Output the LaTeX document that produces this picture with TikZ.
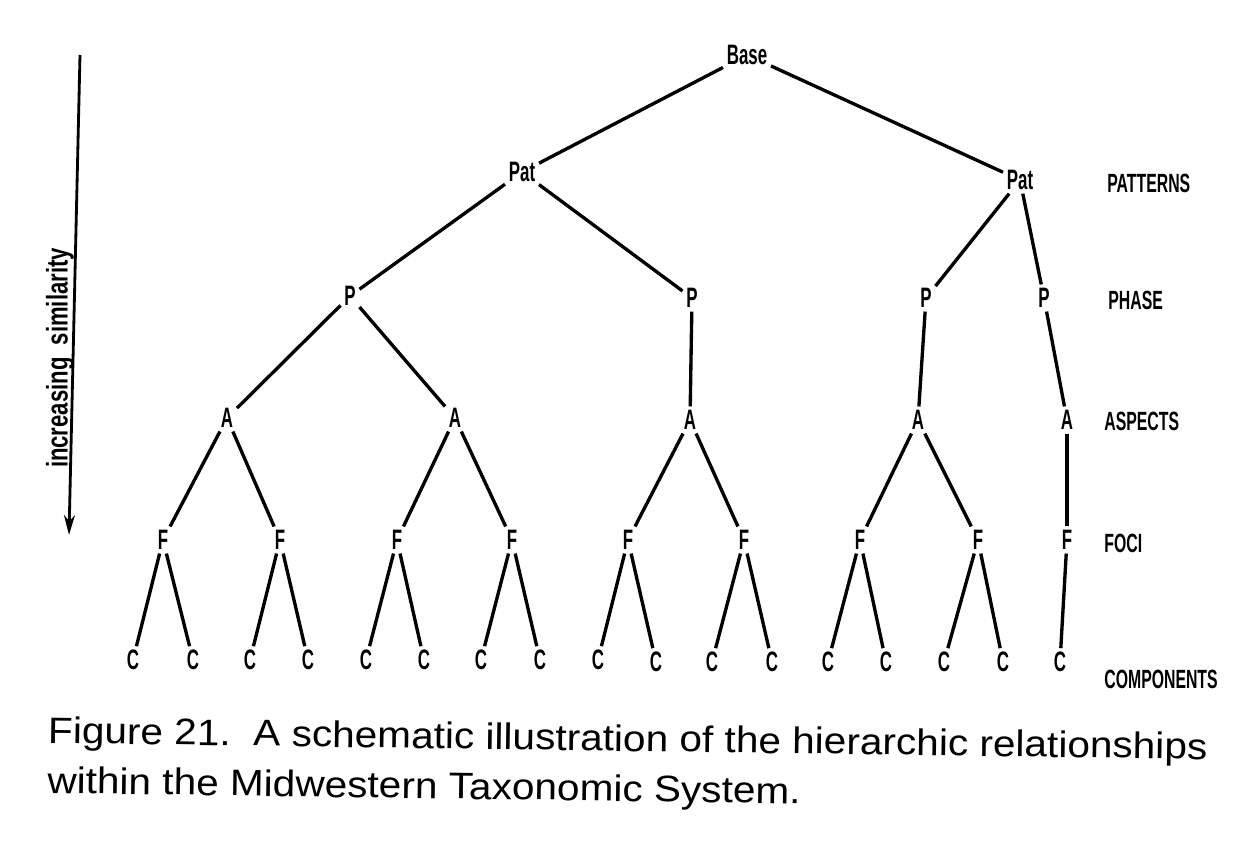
\documentclass[tikz,border=0pt]{standalone}
\usepackage{fontspec}
\setmainfont{Liberation Sans}
\newfontfamily\tagfont[FakeStretch=0.6]{Liberation Sans}
\newfontfamily\axisfont[FakeStretch=0.74]{Liberation Sans}
\newfontfamily\capfont[FakeStretch=1.1]{Liberation Sans}
\usetikzlibrary{arrows.meta}
\usetikzlibrary{positioning}

\begin{document}
\begin{tikzpicture}[
    x=0.02cm, y=-0.02cm,
    taxon/.style={inner sep=2pt, font=\tagfont\bfseries\fontsize{16}{16}\selectfont},
    rank/.style={anchor=west, inner sep=0pt, font=\tagfont\bfseries\fontsize{15}{15}\selectfont},
    link/.style={line width=1.9pt, draw=black},
    axis/.style={-{Stealth[length=4mm, width=2.2mm]}, line width=1.6pt},
    capt/.style={anchor=north west, inner sep=0pt, align=left, rotate=-0.8,
      font=\capfont\fontsize{21}{28.5}\selectfont},
  ]
    \useasboundingbox (0,0) rectangle (1236,842);

    % Levels of the hierarchy, top to bottom
    \node[taxon] (base) at (747,55)  {Base};

    \node[taxon] (pat1) at (522,172) {Pat};
    \node[taxon] (pat2) at (1020,180) {Pat};

    \node[taxon] (p1) at (350,296) {P};
    \node[taxon] (p2) at (692,298) {P};
    \node[taxon] (p3) at (926,298) {P};
    \node[taxon] (p4) at (1044,298) {P};

    \node[taxon] (a1) at (227,418) {A};
    \node[taxon] (a2) at (455,418) {A};
    \node[taxon] (a3) at (690,420) {A};
    \node[taxon] (a4) at (918,420) {A};
    \node[taxon] (a5) at (1067,420) {A};

    \node[taxon] (f1) at (163,540) {F};
    \node[taxon] (f2) at (280,540) {F};
    \node[taxon] (f3) at (397,540) {F};
    \node[taxon] (f4) at (512,540) {F};
    \node[taxon] (f5) at (628,540) {F};
    \node[taxon] (f6) at (744,540) {F};
    \node[taxon] (f7) at (860,540) {F};
    \node[taxon] (f8) at (978,540) {F};
    \node[taxon] (f9) at (1067,540) {F};

    \node[taxon] (c1)  at (133,660) {C};
    \node[taxon] (c2)  at (193,660) {C};
    \node[taxon] (c3)  at (250,660) {C};
    \node[taxon] (c4)  at (308,660) {C};
    \node[taxon] (c5)  at (366,660) {C};
    \node[taxon] (c6)  at (424,660) {C};
    \node[taxon] (c7)  at (481,660) {C};
    \node[taxon] (c8)  at (540,660) {C};
    \node[taxon] (c9)  at (598,660) {C};
    \node[taxon] (c10) at (656,662) {C};
    \node[taxon] (c11) at (712,662) {C};
    \node[taxon] (c12) at (772,662) {C};
    \node[taxon] (c13) at (828,662) {C};
    \node[taxon] (c14) at (886,662) {C};
    \node[taxon] (c15) at (944,662) {C};
    \node[taxon] (c16) at (1003,662) {C};
    \node[taxon] (c17) at (1060,662) {C};

    % Branches
    \draw[link] (pat1) -- (base) -- (pat2);
    \draw[link] (p1) -- (pat1) -- (p2);
    \draw[link] (p3) -- (pat2) -- (p4);
    \draw[link] (a1) -- (p1) -- (a2);
    \draw[link] (p2) -- (a3);
    \draw[link] (p3) -- (a4);
    \draw[link] (p4) -- (a5);
    \draw[link] (f1) -- (a1) -- (f2);
    \draw[link] (f3) -- (a2) -- (f4);
    \draw[link] (f5) -- (a3) -- (f6);
    \draw[link] (f7) -- (a4) -- (f8);
    \draw[link] (a5) -- (f9);
    \draw[link] (c1) -- (f1) -- (c2);
    \draw[link] (c3) -- (f2) -- (c4);
    \draw[link] (c5) -- (f3) -- (c6);
    \draw[link] (c7) -- (f4) -- (c8);
    \draw[link] (c9) -- (f5) -- (c10);
    \draw[link] (c11) -- (f6) -- (c12);
    \draw[link] (c13) -- (f7) -- (c14);
    \draw[link] (c15) -- (f8) -- (c16);
    \draw[link] (f9) -- (c17);

    % Rank names on the right
    \node[rank] (patterns)   at (1107,183) {PATTERNS};
    \node[rank] (phase)      at (1108,300) {PHASE};
    \node[rank] (aspects)    at (1104,421) {ASPECTS};
    \node[rank] (foci)       at (1104,543) {FOCI};
    \node[rank] (components) at (1104,679) {COMPONENTS};

    % Similarity axis
    \coordinate (axtop) at (80,55);
    \coordinate (axbot) at (69,535);
    \draw[axis] (axtop) -- (axbot);
    \node[rotate=90, inner sep=0pt, font=\axisfont\bfseries\fontsize{17}{17}\selectfont]
      (simil) at (60,358) {increasing\ \ similarity};

    % Caption (the scan is slightly tilted)
    \node[capt] (caption) at (48,716)
      {Figure 21.\ \ A schematic illustration of the hierarchic relationships\\
       within the Midwestern Taxonomic System.};

  \end{tikzpicture}
\end{document}
